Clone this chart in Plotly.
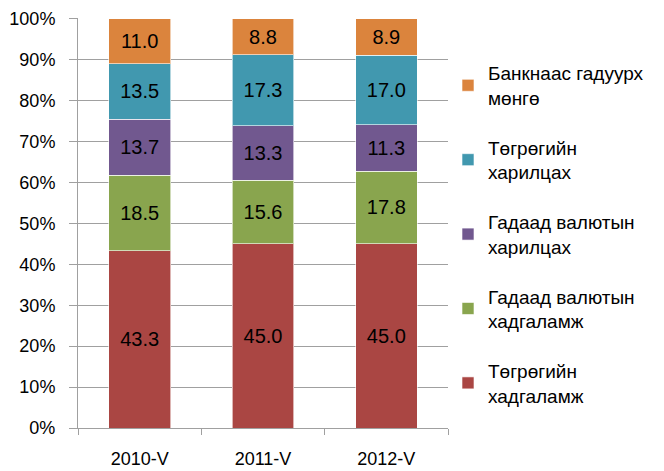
import plotly.graph_objects as go

categories = ["2010-V", "2011-V", "2012-V"]
series_names = [
    "Төгрөгийн<br>хадгаламж",
    "Гадаад валютын<br>хадгаламж",
    "Гадаад валютын<br>харилцах",
    "Төгрөгийн<br>харилцах",
    "Банкнаас гадуурх<br>мөнгө",
]
togrog_deposit = [43.3, 45.0, 45.0]
fx_deposit = [18.5, 15.6, 17.8]
fx_current = [13.7, 13.3, 11.3]
togrog_current = [13.5, 17.3, 17.0]
cash_outside = [11.0, 8.8, 8.9]
series_values = [togrog_deposit, fx_deposit, fx_current, togrog_current, cash_outside]
colors = ["#AA4643", "#89A54E", "#71588F", "#4198AF", "#DB843D"]
y_ticks = [0, 10, 20, 30, 40, 50, 60, 70, 80, 90, 100]
y_tick_labels = [f"{v}%\u00a0\u00a0" for v in y_ticks]

FONT = "Liberation Sans, Arial, sans-serif"

fig = go.Figure()
n = len(series_names)
for i, (name, vals, col) in enumerate(zip(series_names, series_values, colors)):
    fig.add_trace(go.Bar(
        x=categories, y=vals, name=name,
        marker=dict(color=col, line=dict(color="rgba(255,255,255,0.6)", width=1)),
        text=[f"{v:.1f}" for v in vals],
        textposition="inside", insidetextanchor="middle",
        textfont=dict(size=20, color="#000000", family=FONT),
        legendgroup=f"g{i}",
        legendrank=n - i,
        hoverinfo="skip",
    ))

fig.update_layout(
    barmode="stack",
    bargap=0.5,
    width=664, height=471,
    margin=dict(l=70, r=224, t=10, b=51, autoexpand=False),
    paper_bgcolor="white", plot_bgcolor="white",
    font=dict(family=FONT, size=18, color="#000000"),
    legend=dict(
        x=1.0, y=0.912, xanchor="left", yanchor="top",
        traceorder="grouped", tracegroupgap=22,
        font=dict(size=19, family=FONT, color="#000000"),
        itemwidth=30,
    ),
    showlegend=True,
)
fig.update_yaxes(
    range=[0, 100.2], tickmode="array", tickvals=y_ticks, ticktext=y_tick_labels,
    showgrid=True, gridcolor="#A0A0A0", gridwidth=1,
    showline=True, linecolor="#A0A0A0", linewidth=1,
    ticks="outside", ticklen=8, tickcolor="#A0A0A0",
    tickfont=dict(size=18), zeroline=False,
    ticklabeloverflow="allow",
)
fig.update_xaxes(
    showline=True, linecolor="#A0A0A0", linewidth=1,
    ticks="outside", tickson="boundaries", ticklen=6, tickcolor="#A0A0A0",
    tickfont=dict(size=18), ticklabelstandoff=14,
    ticklabeloverflow="allow",
)
fig.write_html("out.html")
